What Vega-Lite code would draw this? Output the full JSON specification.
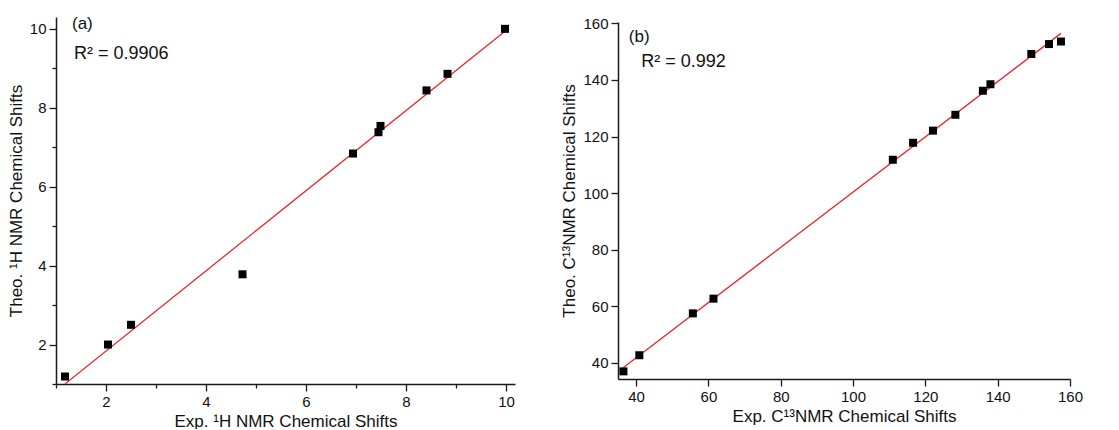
{
  "$schema": "https://vega.github.io/schema/vega-lite/v6.json",
  "padding": {"left": 7, "top": 15, "right": 5, "bottom": 0},
  "spacing": 45,
  "center": true,
  "config": {
    "font": "Liberation Sans",
    "view": {"stroke": null},
    "text": {"font": "Liberation Sans", "fontWeight": "normal"},
    "axis": {
      "grid": false,
      "domainColor": "#1a1a1a",
      "domainWidth": 1.5,
      "tickColor": "#1a1a1a",
      "tickWidth": 1.3,
      "labelFont": "Liberation Sans",
      "labelFontSize": 15,
      "labelColor": "#111111",
      "labelPadding": 3,
      "labelFlush": false,
      "labelOverlap": false,
      "titleFont": "Liberation Sans",
      "titleFontSize": 17,
      "titleFontWeight": "normal",
      "titleColor": "#111111",
      "titlePadding": 4
    }
  },
  "datasets": {
    "proton": [
      {"exp": 1.18, "theo": 1.19},
      {"exp": 2.04, "theo": 2.0},
      {"exp": 2.5, "theo": 2.5},
      {"exp": 4.73, "theo": 3.78},
      {"exp": 6.94, "theo": 6.84},
      {"exp": 7.45, "theo": 7.38},
      {"exp": 7.49, "theo": 7.54},
      {"exp": 8.41, "theo": 8.44},
      {"exp": 8.83, "theo": 8.86},
      {"exp": 9.98, "theo": 10.0}
    ],
    "carbon": [
      {"exp": 36.5, "theo": 37.0},
      {"exp": 40.9, "theo": 42.7},
      {"exp": 55.7, "theo": 57.5},
      {"exp": 61.4, "theo": 62.7},
      {"exp": 111.0, "theo": 111.8},
      {"exp": 116.6, "theo": 117.8},
      {"exp": 122.1, "theo": 122.1},
      {"exp": 128.3, "theo": 127.7},
      {"exp": 135.9, "theo": 136.2},
      {"exp": 138.0, "theo": 138.5},
      {"exp": 149.3, "theo": 149.2},
      {"exp": 154.2, "theo": 152.7},
      {"exp": 157.5, "theo": 153.6}
    ],
    "protonNotes": [{"note": "(a)"}],
    "protonFit": [{"note": "R² = 0.9906"}],
    "carbonNotes": [{"note": "(b)"}],
    "carbonFit": [{"note": "R² = 0.992"}]
  },
  "hconcat": [
    {
      "width": 459,
      "height": 367,
      "layer": [
        {
          "data": {"name": "proton"},
          "transform": [{"regression": "theo", "on": "exp"}],
          "mark": {"type": "line", "color": "#e8262b", "strokeWidth": 1.3, "clip": true},
          "encoding": {
            "x": {
              "field": "exp",
              "type": "quantitative",
              "scale": {"domain": [1, 10.18], "zero": false, "nice": false},
              "axis": {
                "title": "Exp. ¹H NMR Chemical Shifts",
                "values": [1, 2, 3, 4, 5, 6, 7, 8, 9, 10],
                "labelExpr": "datum.value % 2 == 0 ? datum.label : ''",
                "tickSize": {"condition": {"test": "datum.value % 2 != 0", "value": 4}, "value": 7}
              }
            },
            "y": {
              "field": "theo",
              "type": "quantitative",
              "scale": {"domain": [1, 10.3], "zero": false, "nice": false},
              "axis": {
                "title": "Theo. ¹H NMR Chemical Shifts",
                "values": [1, 2, 3, 4, 5, 6, 7, 8, 9, 10],
                "labelExpr": "datum.value % 2 == 0 ? datum.label : ''",
                "tickSize": {"condition": {"test": "datum.value % 2 != 0", "value": 4}, "value": 7}
              }
            }
          }
        },
        {
          "data": {"name": "proton"},
          "mark": {"type": "point", "shape": "square", "filled": true, "color": "#000000", "opacity": 1, "size": 64},
          "encoding": {
            "x": {"field": "exp", "type": "quantitative"},
            "y": {"field": "theo", "type": "quantitative"}
          }
        },
        {
          "data": {"name": "protonNotes"},
          "mark": {"type": "text", "align": "left", "baseline": "middle", "fontSize": 17, "fontWeight": "normal", "color": "#111111"},
          "encoding": {
            "x": {"datum": 1.32, "type": "quantitative"},
            "y": {"datum": 10.12, "type": "quantitative"},
            "text": {"field": "note", "type": "nominal"}
          }
        },
        {
          "data": {"name": "protonFit"},
          "mark": {"type": "text", "align": "left", "baseline": "middle", "fontSize": 18, "fontWeight": "normal", "color": "#111111"},
          "encoding": {
            "x": {"datum": 1.36, "type": "quantitative"},
            "y": {"datum": 9.36, "type": "quantitative"},
            "text": {"field": "note", "type": "nominal"}
          }
        }
      ]
    },
    {
      "width": 452,
      "height": 357,
      "layer": [
        {
          "data": {"name": "carbon"},
          "transform": [{"regression": "theo", "on": "exp"}],
          "mark": {"type": "line", "color": "#e8262b", "strokeWidth": 1.3, "clip": true},
          "encoding": {
            "x": {
              "field": "exp",
              "type": "quantitative",
              "scale": {"domain": [35, 160], "zero": false, "nice": false},
              "axis": {
                "title": "Exp. C¹³NMR Chemical Shifts",
                "values": [40, 50, 60, 70, 80, 90, 100, 110, 120, 130, 140, 150, 160],
                "labelExpr": "datum.value % 20 == 0 ? datum.label : ''",
                "tickSize": {"condition": {"test": "datum.value % 20 != 0", "value": 4}, "value": 7}
              }
            },
            "y": {
              "field": "theo",
              "type": "quantitative",
              "scale": {"domain": [34.3, 160.5], "zero": false, "nice": false},
              "axis": {
                "title": "Theo. C¹³NMR Chemical Shifts",
                "values": [40, 50, 60, 70, 80, 90, 100, 110, 120, 130, 140, 150, 160],
                "labelExpr": "datum.value % 20 == 0 ? datum.label : ''",
                "tickSize": {"condition": {"test": "datum.value % 20 != 0", "value": 4}, "value": 7}
              }
            }
          }
        },
        {
          "data": {"name": "carbon"},
          "mark": {"type": "point", "shape": "square", "filled": true, "color": "#000000", "opacity": 1, "size": 64},
          "encoding": {
            "x": {"field": "exp", "type": "quantitative"},
            "y": {"field": "theo", "type": "quantitative"}
          }
        },
        {
          "data": {"name": "carbonNotes"},
          "mark": {"type": "text", "align": "left", "baseline": "middle", "fontSize": 17, "fontWeight": "normal", "color": "#111111"},
          "encoding": {
            "x": {"datum": 38.0, "type": "quantitative"},
            "y": {"datum": 155.3, "type": "quantitative"},
            "text": {"field": "note", "type": "nominal"}
          }
        },
        {
          "data": {"name": "carbonFit"},
          "mark": {"type": "text", "align": "left", "baseline": "middle", "fontSize": 18, "fontWeight": "normal", "color": "#111111"},
          "encoding": {
            "x": {"datum": 41.4, "type": "quantitative"},
            "y": {"datum": 146.4, "type": "quantitative"},
            "text": {"field": "note", "type": "nominal"}
          }
        }
      ]
    }
  ]
}
